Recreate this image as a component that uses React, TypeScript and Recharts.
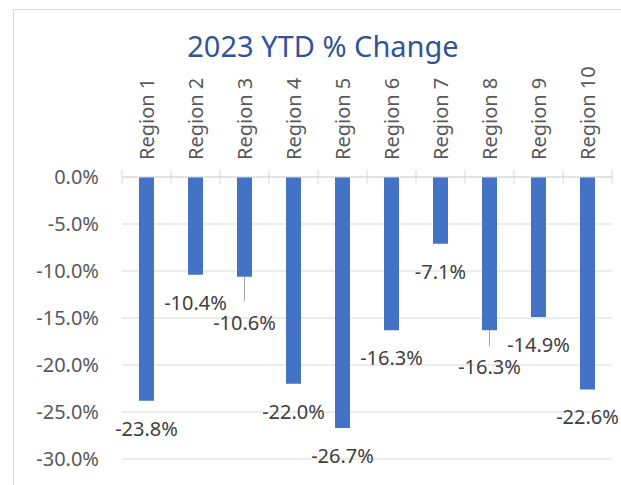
import React, { useLayoutEffect } from 'react';
import { BarChart, Bar, XAxis, YAxis, CartesianGrid } from 'recharts';

const regions = ['Region 1', 'Region 2', 'Region 3', 'Region 4', 'Region 5', 'Region 6', 'Region 7', 'Region 8', 'Region 9', 'Region 10'];
const ytdChange = [-23.8, -10.4, -10.6, -22.0, -26.7, -16.3, -7.1, -16.3, -14.9, -22.6];
const yTicks = [0, -5, -10, -15, -20, -25, -30];

// labels Excel nudged further down (with a leader line)
const labelShift = [0, 0, 18, 0, 0, 0, 0, 9, 0, 0];

const W = 621;
const H = 485;
const PLOT_LEFT = 122;
const PLOT_RIGHT = 612;
const PLOT_TOP = 177;
const PLOT_BOTTOM = 459;
const X_AXIS_H = 100;
const font = '"Noto Sans", sans-serif';

const data = regions.map((name, i) => ({ name, value: ytdChange[i] }));
const band = (PLOT_RIGHT - PLOT_LEFT) / regions.length;

const pct = (v: number) => `${v.toFixed(1)}%`;

const RegionTick = (props: any) => {
  const { x, y, payload, index } = props;
  const axisY = PLOT_TOP;
  return (
    <g>
      <line x1={x - band / 2} x2={x - band / 2} y1={axisY - 7} y2={axisY + 7} stroke="#d9d9d9" />
      {index === regions.length - 1 && (
        <line x1={x + band / 2} x2={x + band / 2} y1={axisY - 7} y2={axisY + 7} stroke="#d9d9d9" />
      )}
      <text
        x={x + 7}
        y={y}
        transform={`rotate(-90, ${x + 7}, ${y})`}
        textAnchor="start"
        fontSize={20}
        fontFamily={font}
        fill="#595959"
      >
        {payload.value}
      </text>
    </g>
  );
};

const ValueLabel = (props: any) => {
  const { x, y, width, height, value, index } = props;
  const end = Math.max(y, y + height);
  const cx = x + width / 2;
  const shift = labelShift[index] || 0;
  const ly = end + 28 + shift;
  return (
    <g>
      {shift > 0 && <line x1={cx} x2={cx} y1={end} y2={ly - 21} stroke="#a6a6a6" />}
      <text x={cx} y={ly} dy="0.35em" textAnchor="middle" fontSize={20} fontFamily={font} fill="#404040">
        {pct(value)}
      </text>
    </g>
  );
};

export default function App() {
  useLayoutEffect(() => {
    document.documentElement.style.overflow = 'hidden';
    document.body.style.overflow = 'hidden';
    document.body.style.margin = '0';
  }, []);

  return (
    <div style={{ position: 'relative', width: W, height: H, overflow: 'hidden', background: '#fff' }}>
      <svg width={W} height={H} style={{ position: 'absolute', left: 0, top: 0 }}>
        <line x1={13} x2={W} y1={9.5} y2={9.5} stroke="#d9d9d9" />
        <line x1={13.5} x2={13.5} y1={9} y2={H} stroke="#d9d9d9" />
        <text x={323} y={57} textAnchor="middle" fontSize={29} fontFamily={font} fill="#2f5597">
          2023 YTD % Change
        </text>
      </svg>
      <div style={{ position: 'absolute', left: 0, top: 0 }}>
        <BarChart
          width={W}
          height={H}
          data={data}
          margin={{ top: PLOT_TOP - X_AXIS_H, right: W - PLOT_RIGHT, bottom: H - PLOT_BOTTOM, left: 0 }}
        >
          <CartesianGrid vertical={false} stroke="#d9d9d9" />
          <XAxis
            dataKey="name"
            orientation="top"
            height={X_AXIS_H}
            interval={0}
            tickLine={false}
            tickSize={0}
            tickMargin={17}
            axisLine={{ stroke: '#d9d9d9' }}
            tick={<RegionTick />}
          />
          <YAxis
            domain={[-30, 0]}
            ticks={yTicks}
            width={PLOT_LEFT}
            axisLine={false}
            tickLine={false}
            tickSize={0}
            tickMargin={23}
            tickFormatter={pct}
            tick={{ fontSize: 20, fontFamily: font, fill: '#595959' }}
          />
          <Bar dataKey="value" fill="#4472c4" barSize={15} isAnimationActive={false} label={<ValueLabel />} />
        </BarChart>
      </div>
    </div>
  );
}
